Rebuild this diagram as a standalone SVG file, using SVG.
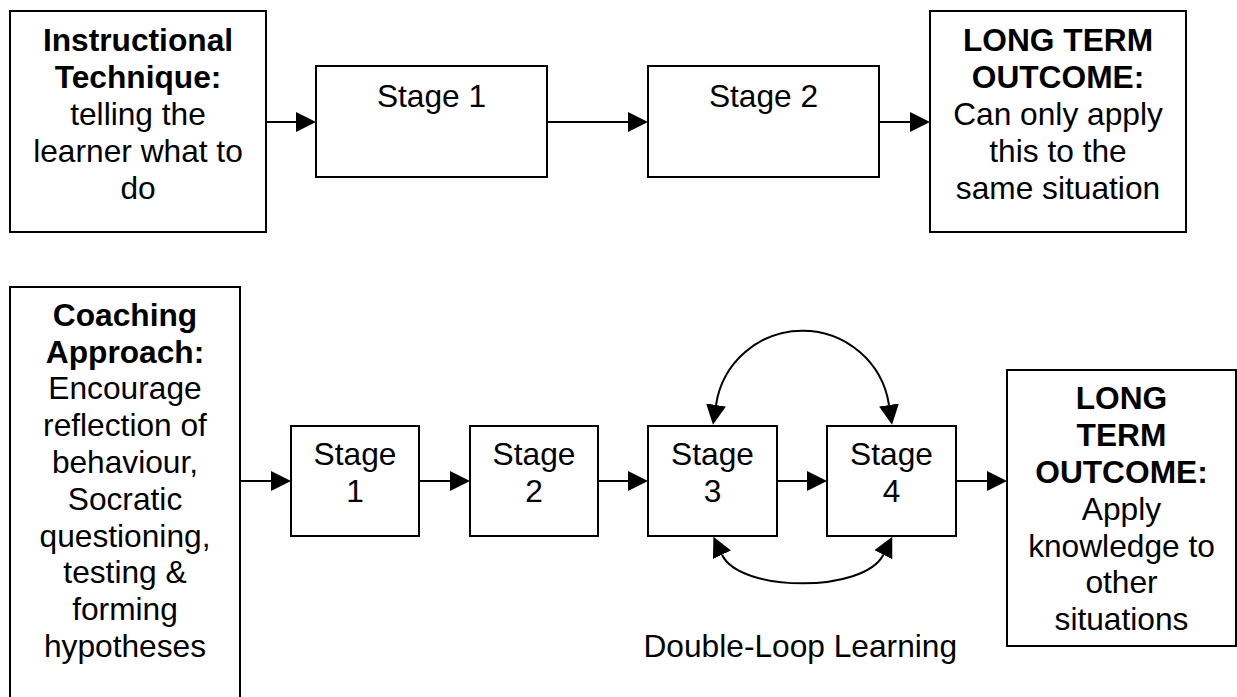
<svg xmlns="http://www.w3.org/2000/svg" width="1237" height="697" viewBox="0 0 1237 697">
<style>
  .box { fill: #ffffff; stroke: #000000; stroke-width: 2; }
  .conn { fill: none; stroke: #000000; stroke-width: 2; marker-end: url(#ah); }
  .loop { fill: none; stroke: #000000; stroke-width: 2; marker-start: url(#ah); marker-end: url(#ah); }
  text { font-family: "Liberation Sans", Arial, sans-serif; font-size: 31.7px; fill: #000000; text-anchor: middle; }
  .b { font-weight: bold; }
</style>
<defs>
  <marker id="ah" viewBox="0 0 20 20" refX="0" refY="10" markerWidth="20" markerHeight="20" markerUnits="userSpaceOnUse" orient="auto-start-reverse">
    <path d="M0,0 L20,10 L0,20 z" fill="#000000"/>
  </marker>
</defs>
<rect width="1237" height="697" fill="#ffffff"/>

<g id="connectors">
  <path class="conn" d="M266,122 H296"/>
  <path class="conn" d="M547,122 H628"/>
  <path class="conn" d="M879,122 H910"/>
  <path class="conn" d="M240,481 H271"/>
  <path class="conn" d="M419,481 H450"/>
  <path class="conn" d="M598,481 H628"/>
  <path class="conn" d="M777,481 H807"/>
  <path class="conn" d="M956,481 H987"/>
  <path class="loop" d="M716,405 A87.5,87.5 0 0 1 889,405"/>
  <path class="loop" d="M722,554.7 C740.2,592.9 864.2,592.9 883.3,554.7"/>
</g>

<g id="instructional">
  <rect class="box" x="10" y="11" width="256" height="221"/>
  <text x="138" y="51" class="b">Instructional</text>
  <text x="138" y="88" class="b">Technique:</text>
  <text x="138" y="125">telling the</text>
  <text x="138" y="162">learner what to</text>
  <text x="138" y="199">do</text>
</g>

<g id="top-stage1">
  <rect class="box" x="316" y="66" width="231" height="111"/>
  <text x="431.5" y="107.3">Stage 1</text>
</g>

<g id="top-stage2">
  <rect class="box" x="648" y="66" width="231" height="111"/>
  <text x="763.5" y="107.3">Stage 2</text>
</g>

<g id="top-outcome">
  <rect class="box" x="930" y="11" width="256" height="221"/>
  <text x="1058" y="51" class="b">LONG TERM</text>
  <text x="1058" y="88" class="b">OUTCOME:</text>
  <text x="1058" y="125">Can only apply</text>
  <text x="1058" y="162">this to the</text>
  <text x="1058" y="199">same situation</text>
</g>

<g id="coaching">
  <rect class="box" x="10" y="287" width="230" height="440"/>
  <text x="125" y="325.7" class="b">Coaching</text>
  <text x="125" y="362.5" class="b">Approach:</text>
  <text x="125" y="399.3">Encourage</text>
  <text x="125" y="436.1">reflection of</text>
  <text x="125" y="472.9">behaviour,</text>
  <text x="125" y="509.7">Socratic</text>
  <text x="125" y="546.5">questioning,</text>
  <text x="125" y="583.3">testing &amp;</text>
  <text x="125" y="620.1">forming</text>
  <text x="125" y="656.9">hypotheses</text>
</g>

<g id="bottom-stage1">
  <rect class="box" x="291" y="426" width="128" height="110"/>
  <text x="355" y="465">Stage</text>
  <text x="355" y="502">1</text>
</g>

<g id="bottom-stage2">
  <rect class="box" x="470" y="426" width="128" height="110"/>
  <text x="534" y="465">Stage</text>
  <text x="534" y="502">2</text>
</g>

<g id="bottom-stage3">
  <rect class="box" x="648" y="426" width="129" height="110"/>
  <text x="712.5" y="465">Stage</text>
  <text x="712.5" y="502">3</text>
</g>

<g id="bottom-stage4">
  <rect class="box" x="827" y="426" width="129" height="110"/>
  <text x="891.5" y="465">Stage</text>
  <text x="891.5" y="502">4</text>
</g>

<g id="bottom-outcome">
  <rect class="box" x="1007" y="370" width="229" height="276"/>
  <text x="1121.5" y="409.3" class="b">LONG</text>
  <text x="1121.5" y="446" class="b">TERM</text>
  <text x="1121.5" y="483" class="b">OUTCOME:</text>
  <text x="1121.5" y="519.7">Apply</text>
  <text x="1121.5" y="556.5">knowledge to</text>
  <text x="1121.5" y="593.3">other</text>
  <text x="1121.5" y="630">situations</text>
</g>

<g id="double-loop-label">
  <text x="800.3" y="657.3">Double-Loop Learning</text>
</g>
</svg>
